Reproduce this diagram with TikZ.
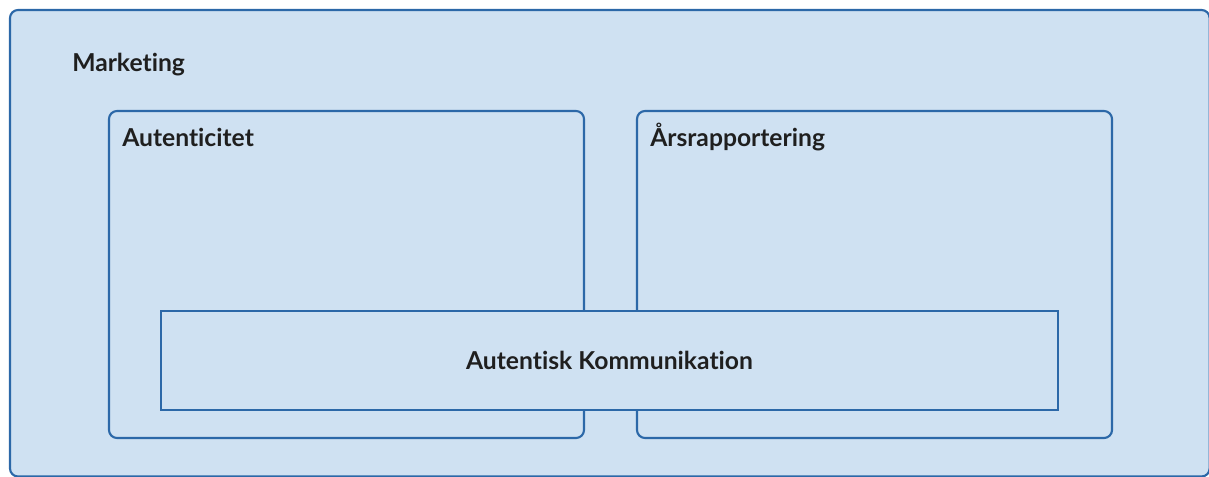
\documentclass[tikz,border=0pt]{standalone}
\usepackage{fontspec}
\setmainfont[Ligatures=NoCommon]{Lato}
\definecolor{boxfill}{HTML}{CFE1F2}
\definecolor{boxline}{HTML}{2C68A8}
\begin{document}
\begin{tikzpicture}[x=0.75pt,y=-0.75pt,
  frame/.style={draw=boxline,fill=boxfill,line width=1.6pt,rounded corners=6pt},
  plain/.style={draw=boxline,fill=boxfill,line width=1.6pt},
  lbl/.style={font=\bfseries\fontsize{18.5}{22}\selectfont,text=black!88,inner sep=0pt,anchor=base west}]
\useasboundingbox (0,0) rectangle (1209,476);
\begin{scope}
\clip (0,0) rectangle (1209,476);
\draw[frame] (10,10) rectangle (1209.6,476.5);
\end{scope}
\node[lbl] (marketing) at (72,71) {Marketing};
\draw[frame] (109,111) rectangle (584,438);
\node[lbl] (autenticitet) at (122,146) {Autenticitet};
\draw[frame] (637,111) rectangle (1112,438);
\node[lbl] (aars) at (650,146) {Årsrapportering};
\draw[plain] (161,311) rectangle (1058,410);
\node[font=\bfseries\fontsize{18.5}{22}\selectfont,text=black!88] (komm) at (609.5,360.5) {Autentisk Kommunikation};
\end{tikzpicture}
\end{document}
